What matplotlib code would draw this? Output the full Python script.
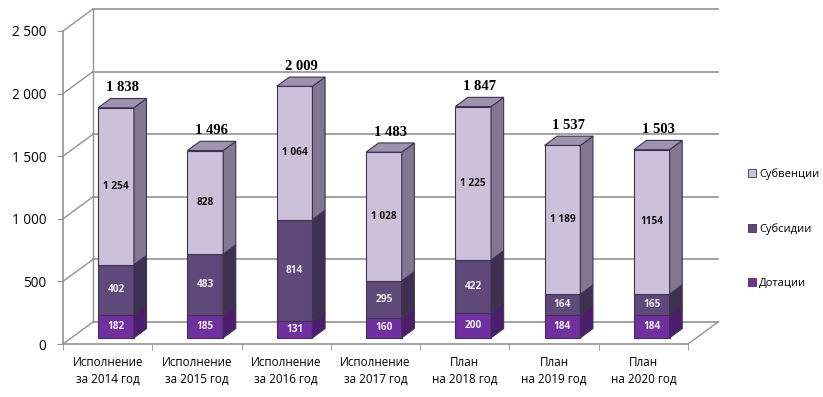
import matplotlib
matplotlib.use("Agg")
import matplotlib.pyplot as plt
from matplotlib.patches import Polygon, Rectangle, Patch

categories = ["Исполнение\nза 2014 год", "Исполнение\nза 2015 год", "Исполнение\nза 2016 год",
              "Исполнение\nза 2017 год", "План\nна 2018 год", "План\nна 2019 год", "План\nна 2020 год"]
dotacii = [182, 185, 131, 160, 200, 184, 184]
subsidii = [402, 483, 814, 295, 422, 164, 165]
subvencii = [1254, 828, 1064, 1028, 1225, 1189, 1154]
subvencii_labels = ["1 254", "828", "1 064", "1 028", "1 225", "1 189", "1154"]
totals = [1838, 1496, 2009, 1483, 1847, 1537, 1503]
series_names = ["Дотации", "Субсидии", "Субвенции"]
yticks = [0, 500, 1000, 1500, 2000, 2500]

W, H = 823, 397
fig = plt.figure(figsize=(W / 100, H / 100), dpi=100)
ax_left, ax_right, ax_bot, ax_top = 63, 688, 344, 31
ax = fig.add_axes([ax_left / W, (H - ax_bot) / H, (ax_right - ax_left) / W, (ax_bot - ax_top) / H])
n = len(categories)
ax.set_xlim(-0.5, n - 0.5)
ax.set_ylim(0, 2500)

px_x = (ax_right - ax_left) / n
px_y = (ax_bot - ax_top) / 2500
DX = 30 / px_x
DY = 22 / px_y
f1, f2 = 0.28, 0.70
bw = 0.40

grid_c = "#929292"
for v in yticks:
    ax.plot([-0.5 + DX, n - 0.5 + DX], [v + DY, v + DY], color=grid_c, lw=1.2, clip_on=False, zorder=1)
    ax.plot([-0.5, -0.5 + DX], [v, v + DY], color=grid_c, lw=1.0, clip_on=False, zorder=1)
ax.plot([-0.5 + DX, -0.5 + DX], [DY, 2500 + DY], color=grid_c, lw=1.0, clip_on=False, zorder=1)
ax.plot([n - 0.5, n - 0.5 + DX], [0, DY], color=grid_c, lw=1.0, clip_on=False, zorder=1)

front_cols = ["#7030A0", "#5F497A", "#CCC1DA"]
side_cols = ["#4B1F6E", "#3E3050", "#7F7890"]
top_col = "#9E93AE"
edge = "#3F3151"
txt_cols = ["#EEEEEE", "#EEEEEE", "#111111"]

series = [dotacii, subsidii, subvencii]
lbls = [[str(v) for v in dotacii], [str(v) for v in subsidii], subvencii_labels]
for i in range(n):
    base = 0
    xl = i - bw / 2
    xr = i + bw / 2
    for s in range(3):
        h = series[s][i]
        y0, y1 = base, base + h
        ax.add_patch(Rectangle((xl + f1 * DX, y0 + f1 * DY), bw, h, facecolor=front_cols[s],
                               edgecolor=edge, lw=0.8, clip_on=False, zorder=3))
        ax.add_patch(Polygon([(xr + f1 * DX, y0 + f1 * DY), (xr + f2 * DX, y0 + f2 * DY),
                              (xr + f2 * DX, y1 + f2 * DY), (xr + f1 * DX, y1 + f1 * DY)],
                             closed=True, facecolor=side_cols[s], edgecolor=edge, lw=0.8,
                             clip_on=False, zorder=3))
        ax.text(i + f1 * DX, (y0 + y1) / 2 + f1 * DY, lbls[s][i], ha="center", va="center",
                fontsize=7.3, fontweight="bold", color=txt_cols[s], family="Open Sans", zorder=5)
        base = y1
    ax.add_patch(Polygon([(xl + f1 * DX, base + f1 * DY), (xr + f1 * DX, base + f1 * DY),
                          (xr + f2 * DX, base + f2 * DY), (xl + f2 * DX, base + f2 * DY)],
                         closed=True, facecolor=top_col, edgecolor=edge, lw=0.8,
                         clip_on=False, zorder=3))
    ax.annotate(f"{totals[i]:,}".replace(",", " "), (i + (f1 + f2) / 2 * DX, base + f2 * DY),
                xytext=(0, 3), textcoords="offset points", ha="center", va="bottom",
                fontsize=10.5, fontweight="bold", family="Liberation Serif", zorder=5,
                annotation_clip=False)

for sp in ["top", "right"]:
    ax.spines[sp].set_visible(False)
for sp in ["left", "bottom"]:
    ax.spines[sp].set_color(grid_c)
    ax.spines[sp].set_linewidth(1.2)
ax.set_facecolor("none")
ax.set_yticks(yticks)
ax.set_yticklabels([f"{v:,}".replace(",", " ") for v in yticks], family="Open Sans", fontsize=9.8)
ax.tick_params(axis="y", length=4, color=grid_c, pad=8)
ax.set_xticks(range(n))
ax.set_xticklabels(categories, family="Open Sans", fontsize=8.4, linespacing=1.35)
ax.set_xticks([k - 0.5 for k in range(n + 1)], minor=True)
ax.tick_params(axis="x", which="major", length=0, pad=9)
ax.tick_params(axis="x", which="minor", length=4, color=grid_c)

handles = [Patch(facecolor=front_cols[s], edgecolor=edge, lw=0.6) for s in [2, 1, 0]]
fig.legend(handles, [series_names[s] for s in [2, 1, 0]], loc="upper left",
           bbox_to_anchor=(738 / W, 1 - 158 / H), frameon=False, prop={"family": "Open Sans", "size": 8},
           handlelength=0.7, handleheight=0.7, handletextpad=0.3, labelspacing=3.9)

fig.savefig("out.png", dpi=100)
